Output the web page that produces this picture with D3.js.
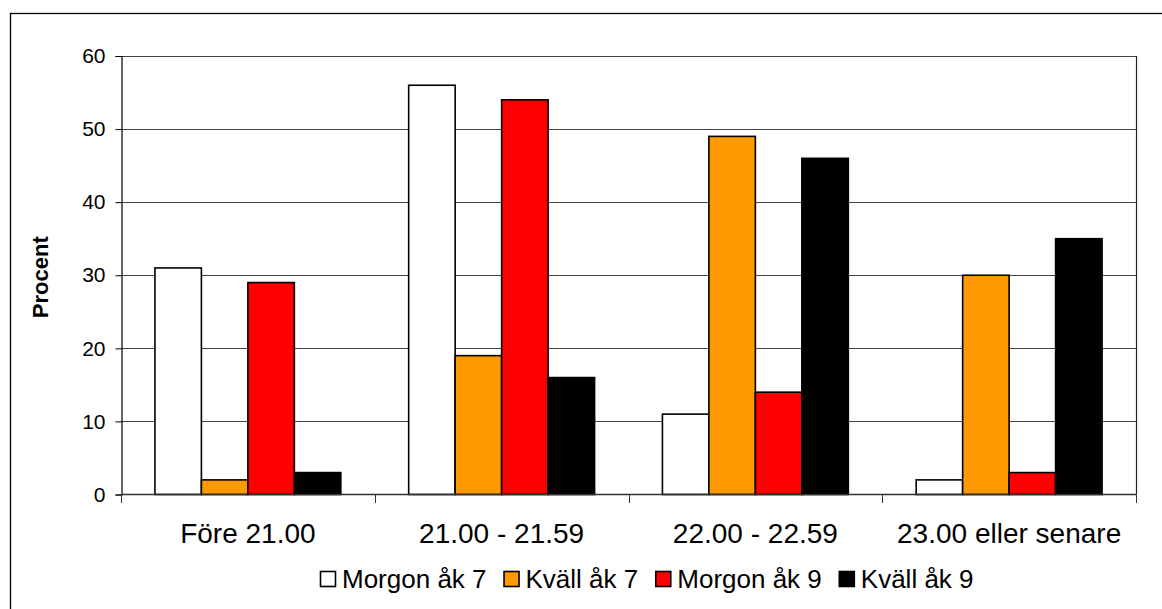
<!DOCTYPE html>
<html>
<head>
<meta charset="utf-8">
<script src="https://cdn.jsdelivr.net/npm/d3@7"></script>
<style>
  html, body { margin: 0; padding: 0; background: #fff; }
  svg { display: block; font-family: Arial, "Liberation Sans", sans-serif; }
</style>
</head>
<body>
<svg id="chart" width="1162" height="609"></svg>
<script>
// Bedtime distribution by group (percent)
const categories = ["Före 21.00", "21.00 - 21.59", "22.00 - 22.59", "23.00 eller senare"];
const seriesNames = ["Morgon åk 7", "Kväll åk 7", "Morgon åk 9", "Kväll åk 9"];
const morgonAk7 = [31, 56, 11, 2];
const kvallAk7 = [2, 19, 49, 30];
const morgonAk9 = [29, 54, 14, 3];
const kvallAk9 = [3, 16, 46, 35];
const seriesColors = ["#FFFFFF", "#FF9900", "#FF0000", "#000000"];
const yTicks = [0, 10, 20, 30, 40, 50, 60];
const yTitle = "Procent";

const seriesValues = [morgonAk7, kvallAk7, morgonAk9, kvallAk9];

const svg = d3.select("#chart");
const plotLeft = 121, plotRight = 1136, plotTop = 56, plotBottom = 494.5;

// outer chart frame
svg.append("rect")
  .attr("x", 10.5).attr("y", 13.5)
  .attr("width", 1200).attr("height", 700)
  .attr("fill", "none").attr("stroke", "#000").attr("stroke-width", 1.3);

const x0 = d3.scaleBand().domain(categories).range([plotLeft, plotRight]).paddingInner(0).paddingOuter(0);
const x1 = d3.scaleBand().domain(seriesNames).range([0, x0.bandwidth()]).paddingInner(0).paddingOuter(0.73);
const y = d3.scaleLinear().domain([0, 60]).range([plotBottom, plotTop]);

// horizontal gridlines
svg.append("g").selectAll("line").data(yTicks.filter(t => t > 0)).join("line")
  .attr("x1", plotLeft).attr("x2", plotRight)
  .attr("y1", d => Math.round(y(d)) + 0.5).attr("y2", d => Math.round(y(d)) + 0.5)
  .attr("stroke", "#444").attr("stroke-width", 1);

// right edge of plot area
svg.append("line")
  .attr("x1", plotRight + 0.5).attr("x2", plotRight + 0.5)
  .attr("y1", plotTop).attr("y2", plotBottom)
  .attr("stroke", "#222").attr("stroke-width", 1.2);

// bars
const groups = svg.append("g").selectAll("g").data(categories).join("g")
  .attr("transform", d => `translate(${x0(d)},0)`);
groups.selectAll("rect")
  .data((c, ci) => seriesNames.map((s, si) => ({ s, si, v: seriesValues[si][ci] })))
  .join("rect")
  .attr("x", d => x1(d.s))
  .attr("y", d => y(d.v))
  .attr("width", x1.bandwidth())
  .attr("height", d => y(0) - y(d.v))
  .attr("fill", d => seriesColors[d.si])
  .attr("stroke", "#000").attr("stroke-width", 1.6);

// y axis
const yAxis = d3.axisLeft(y).tickValues(yTicks).tickSize(6).tickPadding(10);
const gy = svg.append("g").attr("transform", `translate(${plotLeft + 0.5},0)`).call(yAxis);
gy.select(".domain").attr("stroke", "#000").attr("stroke-width", 1.2);
gy.selectAll(".tick line").attr("stroke", "#000");
gy.selectAll(".tick text").attr("font-size", 21).attr("fill", "#000")
  .attr("font-family", "Arial, 'Liberation Sans', sans-serif");

// x axis line and category separators
svg.append("line")
  .attr("x1", plotLeft).attr("x2", plotRight)
  .attr("y1", plotBottom).attr("y2", plotBottom)
  .attr("stroke", "#333").attr("stroke-width", 1.6);
const sepPositions = categories.map(c => x0(c)).concat([plotRight]);
svg.append("g").selectAll("line").data(sepPositions).join("line")
  .attr("x1", d => Math.round(d) + 0.5).attr("x2", d => Math.round(d) + 0.5)
  .attr("y1", plotBottom).attr("y2", plotBottom + 8.5)
  .attr("stroke", "#333").attr("stroke-width", 1);

// category labels
svg.append("g").selectAll("text").data(categories).join("text")
  .attr("x", d => x0(d) + x0.bandwidth() / 2)
  .attr("y", 543)
  .attr("text-anchor", "middle")
  .attr("font-size", 28)
  .attr("fill", "#000")
  .text(d => d);

// y title
svg.append("text")
  .attr("transform", `translate(48,${(plotTop + plotBottom) / 2 + 2}) rotate(-90)`)
  .attr("text-anchor", "middle")
  .attr("font-size", 22).attr("font-weight", "bold")
  .attr("fill", "#000")
  .text(yTitle);

// legend
const legend = svg.append("g");
let lx = 320;
seriesNames.forEach((name, i) => {
  legend.append("rect")
    .attr("x", lx + 0.5).attr("y", 571.5).attr("width", 15).attr("height", 15)
    .attr("fill", seriesColors[i]).attr("stroke", "#000").attr("stroke-width", 1.6);
  const t = legend.append("text")
    .attr("x", lx + 22).attr("y", 588)
    .attr("font-size", 26).attr("fill", "#000")
    .text(name);
  lx += 22 + t.node().getComputedTextLength() + 17;
});
</script>
</body>
</html>
